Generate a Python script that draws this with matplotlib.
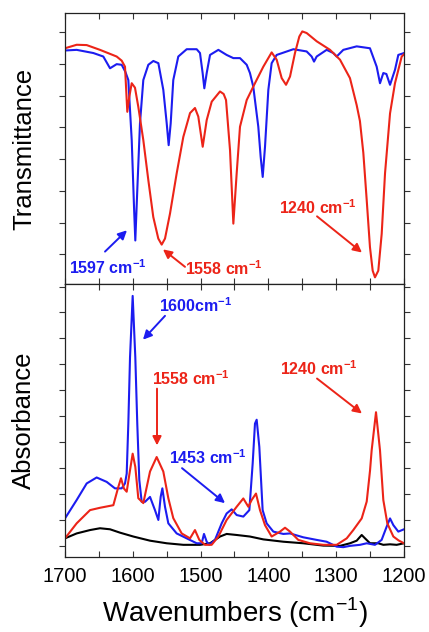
import numpy as np
import matplotlib
matplotlib.use("Agg")
import matplotlib.pyplot as plt
from matplotlib.ticker import MultipleLocator, NullFormatter

plt.rcParams['font.family'] = ['Liberation Sans', 'DejaVu Sans']
plt.rcParams['mathtext.fontset'] = 'custom'
plt.rcParams['mathtext.rm'] = 'Liberation Sans'
plt.rcParams['mathtext.bf'] = 'Liberation Sans:bold'

BLUE = '#1c1cf0'
RED = '#ec2418'

# ---- Transmittance (top panel) ----
wn_t_blue = [1700.0, 1682.8, 1658.2, 1643.5, 1633.6, 1623.8, 1616.4, 1611.0, 1606.6, 1601.6,
             1598.2, 1596.3, 1593.4, 1589.4, 1584.5, 1577.1, 1569.7, 1562.3, 1555.0, 1550.0,
             1547.1, 1544.1, 1540.3, 1532.9, 1520.5, 1505.8, 1500.9, 1497.0, 1494.5, 1491.0,
             1486.1, 1473.8, 1461.6, 1451.7, 1441.9, 1432.0, 1427.2, 1422.3, 1414.9, 1411.4,
             1408.4, 1405.0, 1400.1, 1395.2, 1387.8, 1363.2, 1343.6, 1336.2, 1332.7, 1328.8,
             1314.1, 1304.2, 1299.3, 1289.5, 1269.8, 1250.2, 1240.3, 1235.4, 1230.5, 1226.0,
             1220.6, 1213.3, 1208.4, 1200.0]
t_blue = [6.42, 6.44, 6.34, 6.23, 5.86, 5.99, 5.97, 5.75, 5.49, 3.60,
          1.49, 0.44, 2.02, 4.13, 5.49, 5.97, 6.09, 6.02, 5.18, 4.13,
          3.44, 4.13, 5.49, 6.23, 6.46, 6.46, 6.34, 5.71, 5.23, 5.71,
          6.28, 6.44, 6.28, 6.18, 6.18, 5.97, 5.71, 5.28, 4.02, 3.07,
          2.44, 3.39, 5.18, 6.02, 6.28, 6.46, 6.39, 6.23, 6.07, 6.23,
          6.44, 6.34, 6.23, 6.44, 6.55, 6.49, 5.91, 5.39, 5.71, 5.68,
          5.34, 5.81, 6.28, 6.34]

wn_t_red = [1700.0, 1682.8, 1668.0, 1648.4, 1623.8, 1616.4, 1611.5, 1608.1, 1605.1, 1601.6,
            1596.8, 1591.9, 1584.5, 1577.1, 1569.8, 1562.4, 1557.4, 1552.5, 1545.1, 1535.3,
            1525.5, 1515.6, 1508.3, 1503.4, 1496.9, 1491.0, 1483.6, 1471.4, 1466.0, 1462.5,
            1456.6, 1451.7, 1446.8, 1441.9, 1432.0, 1419.8, 1407.5, 1395.2, 1387.8, 1380.4,
            1374.0, 1368.1, 1360.8, 1354.4, 1350.0, 1343.6, 1328.8, 1309.1, 1294.4, 1279.7,
            1269.8, 1265.0, 1260.0, 1255.0, 1250.2, 1246.2, 1242.8, 1237.9, 1232.9, 1228.0,
            1220.6, 1213.3, 1203.4, 1200.0]
t_red = [6.49, 6.60, 6.59, 6.44, 6.23, 6.10, 5.91, 4.49, 4.97, 5.39,
         5.25, 4.65, 3.60, 2.34, 1.18, 0.50, 0.31, 0.50, 1.29, 2.55,
         3.70, 4.45, 4.61, 4.34, 3.39, 4.23, 4.81, 5.13, 5.05, 4.86,
         3.28, 0.97, 2.55, 4.02, 4.86, 5.39, 5.91, 6.36, 6.13, 5.55,
         5.34, 5.60, 6.34, 6.86, 7.02, 6.97, 6.71, 6.44, 6.13, 5.55,
         4.70, 4.20, 3.20, 1.71, 0.23, -0.51, -0.72, -0.51, 0.65, 2.55,
         4.44, 5.39, 6.23, 6.30]

# ---- Absorbance (bottom panel) ----
wn_a_blue = [1700.0, 1682.8, 1668.0, 1653.3, 1638.5, 1626.3, 1616.4, 1611.5, 1609.0, 1606.6,
             1604.1, 1600.2, 1596.3, 1593.4, 1590.4, 1586.9, 1582.0, 1574.6, 1567.3, 1562.3,
             1558.9, 1556.4, 1552.5, 1547.6, 1535.3, 1520.5, 1505.8, 1498.4, 1495.0, 1491.0,
             1487.1, 1478.8, 1468.9, 1461.6, 1454.2, 1446.8, 1437.0, 1428.1, 1423.2, 1419.8,
             1417.3, 1413.4, 1408.5, 1402.6, 1392.7, 1378.0, 1368.1, 1348.5, 1328.8, 1314.1,
             1299.3, 1289.5, 1279.6, 1264.9, 1255.0, 1242.8, 1233.0, 1225.6, 1220.6, 1215.7,
             1208.4, 1200.0]
a_blue = [1.05, 1.76, 2.40, 2.63, 2.46, 2.21, 2.21, 2.40, 2.78, 4.71,
          7.27, 9.64, 7.27, 4.71, 2.53, 1.69, 1.69, 1.88, 1.37, 0.99,
          1.88, 2.21, 1.50, 0.86, 0.47, 0.28, 0.09, 0.09, 0.45, 0.15,
          0.03, 0.22, 0.86, 1.24, 1.40, 1.18, 1.12, 1.37, 3.17, 4.71,
          4.86, 3.81, 1.37, 0.86, 0.54, 0.45, 0.47, 0.32, 0.22, 0.15,
          -0.04, -0.06, -0.01, 0.03, 0.09, 0.03, 0.22, 0.73, 1.05, 0.79,
          0.54, 0.63]

wn_a_red = [1700.0, 1682.8, 1663.1, 1648.4, 1628.7, 1621.3, 1617.4, 1613.0, 1609.0, 1604.1,
            1600.2, 1596.3, 1591.9, 1584.5, 1574.6, 1564.8, 1555.0, 1547.6, 1540.3, 1527.9,
            1515.6, 1508.3, 1501.9, 1493.5, 1483.7, 1473.8, 1461.6, 1446.8, 1437.0, 1429.6,
            1424.7, 1418.3, 1412.4, 1405.0, 1395.2, 1382.9, 1375.5, 1368.1, 1355.9, 1338.6,
            1319.0, 1299.3, 1284.5, 1274.8, 1262.4, 1255.0, 1250.1, 1247.7, 1241.3, 1235.4,
            1230.5, 1224.6, 1215.7, 1208.0, 1200.0]
a_red = [0.28, 0.86, 1.37, 1.46, 1.56, 2.27, 2.60, 2.20, 2.08, 2.91,
         3.55, 3.04, 1.83, 1.64, 2.86, 3.42, 2.86, 1.83, 1.06, 0.47,
         0.28, 0.60, 0.22, 0.03, 0.03, 0.35, 0.99, 1.50, 1.82, 1.50,
         1.76, 2.01, 1.37, 0.79, 0.35, 0.54, 0.69, 0.54, 0.22, 0.09,
         0.03, 0.03, 0.28, 0.60, 1.05, 1.70, 2.90, 3.68, 5.15, 3.68,
         1.76, 0.86, 0.35, 0.20, 0.09]

wn_a_black = [1700.0, 1682.8, 1663.1, 1648.4, 1633.6, 1618.9, 1599.2, 1574.6, 1550.0, 1525.5,
              1500.9, 1486.1, 1471.4, 1461.6, 1446.8, 1427.2, 1407.5, 1378.0, 1348.5, 1319.0,
              1294.4, 1279.6, 1269.8, 1262.4, 1257.5, 1250.1, 1237.9, 1230.5, 1220.6, 1210.8,
              1200.0]
a_black = [0.28, 0.47, 0.60, 0.67, 0.63, 0.50, 0.35, 0.19, 0.09, 0.03,
           0.03, 0.09, 0.35, 0.45, 0.41, 0.35, 0.24, 0.15, 0.09, 0.00,
           -0.01, 0.09, 0.19, 0.41, 0.28, 0.09, 0.09, 0.03, 0.05, 0.03,
           0.09]

fig = plt.figure(figsize=(4.29, 6.32), dpi=100)
ax1 = fig.add_axes([65/429, 1-284/632, 339/429, 271/632])
ax2 = fig.add_axes([65/429, 1-557/632, 339/429, 273/632], sharex=ax1)

lw = 1.5
ax1.plot(wn_t_blue, t_blue, color=BLUE, lw=lw)
ax1.plot(wn_t_red, t_red, color=RED, lw=lw)
ax2.plot(wn_a_black, a_black, color='black', lw=lw)
ax2.plot(wn_a_blue, a_blue, color=BLUE, lw=lw)
ax2.plot(wn_a_red, a_red, color=RED, lw=lw)

ax1.set_xlim(1700, 1200)
ax1.set_ylim(-0.93, 7.6)
ax2.set_ylim(-0.44, 10.1)

for ax in (ax1, ax2):
    ax.xaxis.set_major_locator(MultipleLocator(100))
    ax.xaxis.set_minor_locator(MultipleLocator(50))
    ax.yaxis.set_major_locator(MultipleLocator(1))
    ax.yaxis.set_major_formatter(NullFormatter())
    ax.tick_params(which='both', direction='in', top=True, right=True,
                   length=4, width=0.8, color='#333333')
    ax.tick_params(axis='y', which='both', direction='out', left=True)
    for s in ax.spines.values():
        s.set_linewidth(0.9)
        s.set_color('#222222')
    ax.yaxis.set_label_coords(-0.085, 0.5)

ax1.tick_params(axis='x', labelbottom=False)
ax2.tick_params(axis='x', labelsize=14.5, pad=7)
ax1.set_ylabel('Transmittance', fontsize=18.5)
ax2.set_ylabel('Absorbance', fontsize=18.5)
ax2.set_xlabel('Wavenumbers (cm$^{-1}$)', fontsize=20, labelpad=7)

ap = dict(arrowstyle='-|>', lw=1.4, mutation_scale=13, shrinkA=0, shrinkB=0)
lab = dict(fontsize=11.5, fontweight='bold', ha='center', va='center')

# top panel annotations
ax1.text(1636.6, -0.41, '1597 cm$^{\\mathbf{-1}}$', color=BLUE, **lab)
ax1.annotate('', xy=(1608.6, 0.76), xytext=(1641.0, 0.09),
             arrowprops=dict(ap, color=BLUE))
ax1.text(1465.5, -0.44, '1558 cm$^{\\mathbf{-1}}$', color=RED, **lab)
ax1.annotate('', xy=(1555.5, 0.16), xytext=(1523.0, -0.39),
             arrowprops=dict(ap, color=RED))
ax1.text(1326.8, 1.48, '1240 cm$^{\\mathbf{-1}}$', color=RED, **lab)
ax1.annotate('', xy=(1262.0, 0.06), xytext=(1328.3, 1.2),
             arrowprops=dict(ap, color=RED))

# bottom panel annotations
ax2.text(1506.8, 9.26, '1600cm$^{\\mathbf{-1}}$', color=BLUE, **lab)
ax2.annotate('', xy=(1585.0, 7.95), xytext=(1552.5, 8.87),
             arrowprops=dict(ap, color=BLUE))
ax2.text(1514.0, 6.45, '1558 cm$^{\\mathbf{-1}}$', color=RED, **lab)
ax2.annotate('', xy=(1564.3, 3.87), xytext=(1564.3, 6.06),
             arrowprops=dict(ap, color=RED))
ax2.text(1489.0, 3.41, '1453 cm$^{\\mathbf{-1}}$', color=BLUE, **lab)
ax2.annotate('', xy=(1464.0, 1.64), xytext=(1527.4, 2.99),
             arrowprops=dict(ap, color=BLUE))
ax2.text(1325.4, 6.83, '1240 cm$^{\\mathbf{-1}}$', color=RED, **lab)
ax2.annotate('', xy=(1262.0, 5.10), xytext=(1328.3, 6.45),
             arrowprops=dict(ap, color=RED))

fig.savefig('out.png', dpi=100)
